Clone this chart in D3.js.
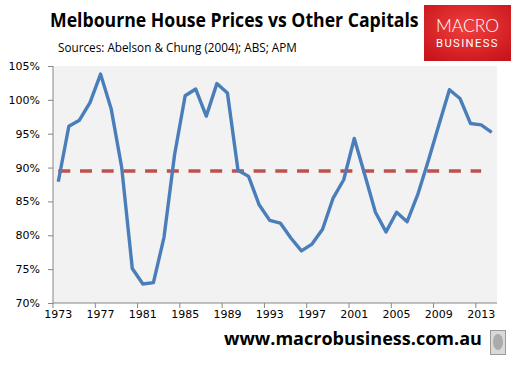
<!DOCTYPE html>
<html>
<head>
<meta charset="utf-8">
<script src="https://cdn.jsdelivr.net/npm/d3@7"></script>
<style>
  body { margin: 0; background: #fff; }
  svg { display: block; }
</style>
</head>
<body>
<div id="chart-area"></div>
<script>
// categories and values
var years = d3.range(1973, 2015);
var ratio = [87.9, 96.1, 97.0, 99.6, 103.8, 98.7, 90.0, 75.1, 72.8, 73.0,
             79.7, 91.9, 100.6, 101.6, 97.6, 102.4, 101.0, 89.6, 88.7, 84.5,
             82.2, 81.8, 79.6, 77.7, 78.7, 80.9, 85.5, 88.2, 94.3, 88.9,
             83.4, 80.5, 83.4, 82.0, 86.0, 91.0, 96.3, 101.5, 100.2, 96.5,
             96.3, 95.2];
var averageValue = 89.5;
var averageYears = d3.range(1973, 2014);
var yTicks = [70, 75, 80, 85, 90, 95, 100, 105];
var xLabelYears = [1973, 1977, 1981, 1985, 1989, 1993, 1997, 2001, 2005, 2009, 2013];

var W = 523, H = 377;
var plot = {left: 53, right: 497, top: 66, bottom: 303};

var svg = d3.select("#chart-area").append("svg")
    .attr("width", W)
    .attr("height", H);

var defs = svg.append("defs");
var grad = defs.append("radialGradient")
    .attr("id", "logoRed")
    .attr("cx", "50%").attr("cy", "40%").attr("r", "70%");
grad.append("stop").attr("offset", "0%").attr("stop-color", "#f0403f");
grad.append("stop").attr("offset", "100%").attr("stop-color", "#c8141b");

var x = d3.scaleBand().domain(years).range([plot.left, plot.right]).padding(0);
var y = d3.scaleLinear().domain([70, 105]).range([plot.bottom, plot.top]);
var cx = function(d) { return x(d) + x.bandwidth() / 2; };

// squeeze a text horizontally so it spans the given width
function fitText(sel, left, base, width) {
    var len = sel.node().getComputedTextLength();
    sel.attr("x", 0).attr("y", 0)
        .attr("transform", "translate(" + left + "," + base + ") scale(" + (width / len) + ",1)");
}

// plot background
svg.append("rect")
    .attr("x", plot.left)
    .attr("y", plot.top)
    .attr("width", plot.right - plot.left)
    .attr("height", plot.bottom - plot.top)
    .attr("fill", "#f2f2f2");

// Y axis
var leftAxis = d3.axisLeft(y)
    .tickValues(yTicks)
    .tickSize(5)
    .tickPadding(8)
    .tickFormat(function(d) { return d + "%"; });
var yAxis = svg.append("g")
    .attr("transform", "translate(" + plot.left + ",0)")
    .call(leftAxis);
yAxis.select(".domain").attr("stroke", "#868686").attr("d", "M0," + plot.top + "V" + plot.bottom);
yAxis.selectAll(".tick line").attr("stroke", "#868686");
yAxis.selectAll("text")
    .attr("font-family", "DejaVu Sans")
    .attr("font-size", "11px")
    .attr("fill", "#000");

// X axis: labels at category centres, tick marks at category boundaries
var bottomAxis = d3.axisBottom(x)
    .tickValues(xLabelYears)
    .tickSize(0)
    .tickPadding(7);
var xAxis = svg.append("g")
    .attr("transform", "translate(0," + plot.bottom + ")")
    .call(bottomAxis);
xAxis.select(".domain").attr("stroke", "#868686").attr("d", "M" + plot.left + ",0H" + plot.right);
xAxis.selectAll("text")
    .attr("font-family", "DejaVu Sans")
    .attr("font-size", "11px")
    .attr("fill", "#000");
xAxis.selectAll(".tickmark")
    .data(xLabelYears)
    .enter().append("line")
    .attr("class", "tickmark")
    .attr("x1", function(d) { return x(d); })
    .attr("x2", function(d) { return x(d); })
    .attr("y1", 0)
    .attr("y2", 5)
    .attr("stroke", "#868686");

// average dashed line
var avgLine = d3.line()
    .x(function(d) { return cx(d); })
    .y(function() { return y(averageValue); });
svg.append("path")
    .datum(averageYears)
    .attr("d", avgLine)
    .attr("fill", "none")
    .attr("stroke", "#c0504d")
    .attr("stroke-width", 3.5)
    .attr("stroke-dasharray", "12 9.7");

// main series
var line = d3.line()
    .x(function(d, i) { return cx(years[i]); })
    .y(function(d) { return y(d); });
svg.append("path")
    .datum(ratio)
    .attr("d", line)
    .attr("fill", "none")
    .attr("stroke", "#4a7ebb")
    .attr("stroke-width", 3.4)
    .attr("stroke-linejoin", "round");

// Title
var title = svg.append("text")
    .attr("font-family", "Open Sans")
    .attr("font-weight", "bold")
    .attr("font-size", "19px")
    .attr("fill", "#000")
    .text("Melbourne House Prices vs Other Capitals");
fitText(title, 50, 27, 369);

var sub = svg.append("text")
    .attr("font-family", "Open Sans")
    .attr("font-size", "13px")
    .attr("fill", "#000")
    .text("Sources: Abelson & Chung (2004); ABS; APM");
fitText(sub, 58, 52, 239);

// Logo
svg.append("rect")
    .attr("x", 424)
    .attr("y", 5)
    .attr("width", 87)
    .attr("height", 56)
    .attr("fill", "url(#logoRed)");
var macro = svg.append("text")
    .attr("font-family", "Lato")
    .attr("font-weight", 300)
    .attr("font-size", "18px")
    .attr("fill", "#fff")
    .text("MACRO");
fitText(macro, 436, 31.5, 63);
var business = svg.append("text")
    .attr("font-family", "Roboto")
    .attr("font-size", "10px")
    .attr("letter-spacing", "1.2px")
    .attr("fill", "#fff")
    .text("BUSINESS");
fitText(business, 436, 47, 63);

// Footer
var footer = svg.append("text")
    .attr("font-family", "Open Sans")
    .attr("font-weight", "bold")
    .attr("font-size", "17px")
    .attr("fill", "#000")
    .text("www.macrobusiness.com.au");
fitText(footer, 224, 345, 258);

// icon box
svg.append("rect")
    .attr("x", 490.5)
    .attr("y", 330.5)
    .attr("width", 15)
    .attr("height", 24)
    .attr("fill", "#d9d9d9")
    .attr("stroke", "#9a9a9a");
svg.append("ellipse")
    .attr("cx", 498)
    .attr("cy", 342)
    .attr("rx", 5)
    .attr("ry", 8)
    .attr("fill", "#8c8c8c")
    .attr("opacity", 0.6);
</script>
</body>
</html>
